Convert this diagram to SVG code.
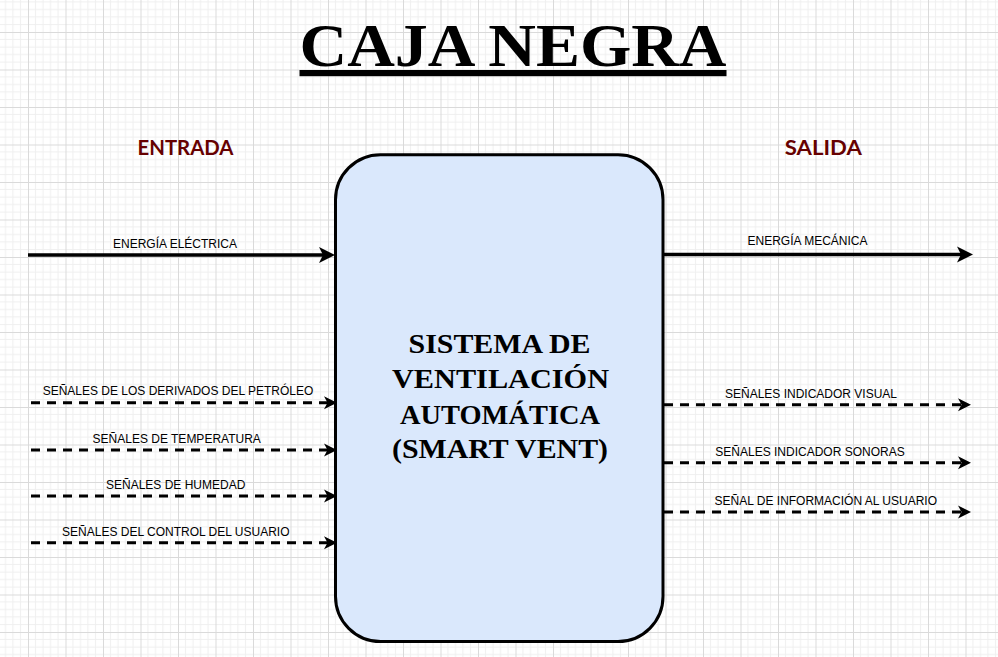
<svg xmlns="http://www.w3.org/2000/svg" width="998" height="657" viewBox="0 0 998 657">
  <style>
    .lbl { font-family: "Liberation Sans", Arial, sans-serif; font-size: 12px; fill: #000; text-anchor: middle; }
    .head { font-family: Lato, "DejaVu Sans", sans-serif; font-weight: bold; font-size: 20px; fill: #660000; text-anchor: middle; }
    .title { font-family: "Liberation Serif", "Times New Roman", serif; font-weight: bold; font-size: 62px; fill: #000; text-anchor: middle; text-decoration: underline; }
    .core { font-family: "Liberation Serif", "Times New Roman", serif; font-weight: bold; font-size: 28px; fill: #000; text-anchor: middle; }
    .solid { stroke: #000; stroke-width: 3.5; fill: none; }
    .dash { stroke: #000; stroke-width: 3; fill: none; stroke-dasharray: 9 7; }
  </style>
  <defs>
    <pattern id="grid" x="28" y="32" width="37.5" height="37.5" patternUnits="userSpaceOnUse">
      <path d="M7.5,0 V37.5 M15,0 V37.5 M22.5,0 V37.5 M30,0 V37.5 M0,7.5 H37.5 M0,15 H37.5 M0,22.5 H37.5 M0,30 H37.5" stroke="#efefef" stroke-width="1"/>
      <path d="M0.5,0 V37.5 M0,0.5 H37.5" stroke="#dadada" stroke-width="1"/>
    </pattern>
    <marker id="arrBig" viewBox="0 -9 17 18" markerWidth="17" markerHeight="18" refX="8" refY="0" orient="auto" markerUnits="userSpaceOnUse">
      <path d="M0,-8 L16,0 L0,8 L4,0 Z" fill="#000"/>
    </marker>
    <marker id="arrSmall" viewBox="0 -7 14 14" markerWidth="14" markerHeight="14" refX="7" refY="0" orient="auto" markerUnits="userSpaceOnUse">
      <path d="M0,-6.5 L13,0 L0,6.5 L3.5,0 Z" fill="#000"/>
    </marker>
  </defs>

  <rect x="0" y="0" width="998" height="657" fill="#ffffff"/>
  <rect x="0" y="0" width="998" height="657" fill="url(#grid)"/>

  <g id="title">
    <text class="title" x="513" y="66" textLength="427" lengthAdjust="spacingAndGlyphs">CAJA NEGRA</text>
  </g>

  <g id="entrada">
    <text class="head" x="185.5" y="155" textLength="96" lengthAdjust="spacingAndGlyphs">ENTRADA</text>
  </g>
  <g id="salida">
    <text class="head" x="823.3" y="155" textLength="77" lengthAdjust="spacingAndGlyphs">SALIDA</text>
  </g>

  <g id="smart-vent">
    <rect x="335.5" y="154.7" width="327.5" height="486.8" rx="45" ry="45" fill="#dae8fc" stroke="#000" stroke-width="3"/>
    <text class="core" x="499.5" y="352.5" textLength="182" lengthAdjust="spacingAndGlyphs">SISTEMA DE</text>
    <text class="core" x="500.5" y="388" textLength="217" lengthAdjust="spacingAndGlyphs">VENTILACIÓN</text>
    <text class="core" x="500" y="423.5" textLength="200" lengthAdjust="spacingAndGlyphs">AUTOMÁTICA</text>
    <text class="core" x="500" y="458" textLength="216" lengthAdjust="spacingAndGlyphs">(SMART VENT)</text>
  </g>

  <g id="connectors">
    <line class="solid" x1="28" y1="255" x2="327" y2="255" marker-end="url(#arrBig)"/>
    <line class="solid" x1="663" y1="254.5" x2="965" y2="254.5" marker-end="url(#arrBig)"/>

    <line class="dash" x1="31" y1="402.7" x2="331" y2="402.7" marker-end="url(#arrSmall)"/>
    <line class="dash" x1="31" y1="450" x2="331" y2="450" marker-end="url(#arrSmall)"/>
    <line class="dash" x1="31" y1="496" x2="331" y2="496" marker-end="url(#arrSmall)"/>
    <line class="dash" x1="31" y1="542.7" x2="331" y2="542.7" marker-end="url(#arrSmall)"/>

    <line class="dash" x1="664" y1="404.7" x2="965" y2="404.7" marker-end="url(#arrSmall)"/>
    <line class="dash" x1="664" y1="462.7" x2="965" y2="462.7" marker-end="url(#arrSmall)"/>
    <line class="dash" x1="664" y1="512" x2="965" y2="512" marker-end="url(#arrSmall)"/>

    <text class="lbl" x="175" y="248">ENERGÍA ELÉCTRICA</text>
    <text class="lbl" x="807.5" y="245">ENERGÍA MECÁNICA</text>

    <text class="lbl" x="178" y="395">SEÑALES DE LOS DERIVADOS DEL PETRÓLEO</text>
    <text class="lbl" x="176.7" y="442.7">SEÑALES DE TEMPERATURA</text>
    <text class="lbl" x="175.7" y="489">SEÑALES DE HUMEDAD</text>
    <text class="lbl" x="175.8" y="535.7">SEÑALES DEL CONTROL DEL USUARIO</text>

    <text class="lbl" x="811" y="398">SEÑALES INDICADOR VISUAL</text>
    <text class="lbl" x="810" y="455.7">SEÑALES INDICADOR SONORAS</text>
    <text class="lbl" x="825.8" y="504.7">SEÑAL DE INFORMACIÓN AL USUARIO</text>
  </g>
</svg>
